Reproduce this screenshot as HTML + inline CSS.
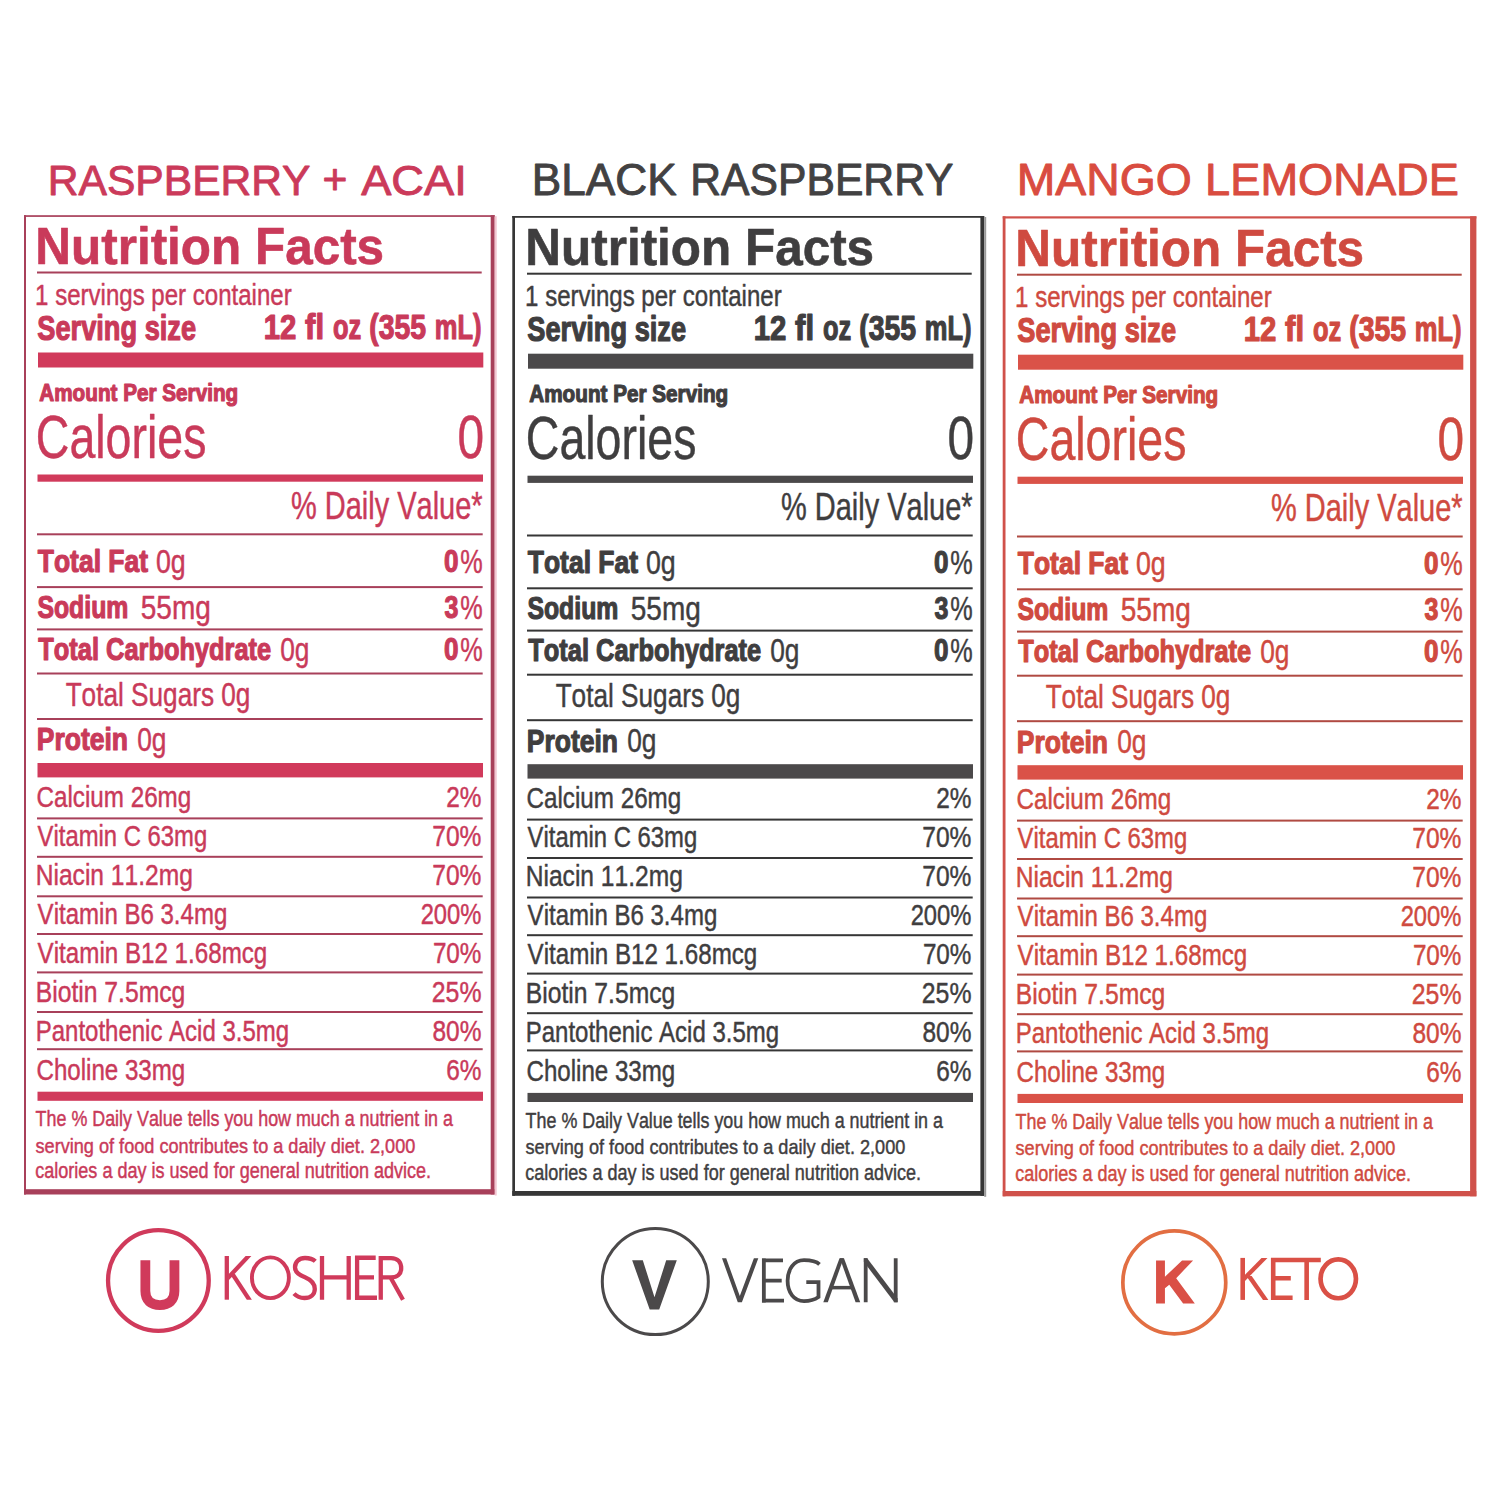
<!DOCTYPE html>
<html><head><meta charset="utf-8"><style>
html,body{margin:0;padding:0;background:#fff;width:1500px;height:1500px;overflow:hidden}
svg{display:block}
text{font-family:"Liberation Sans",sans-serif;font-kerning:none}
</style></head><body>
<svg width="1500" height="1500" viewBox="0 0 1500 1500">
<rect width="1500" height="1500" fill="#fff"/>
<text transform="matrix(0.9866 0 0 1 47.76 194.85)" font-size="43.17" font-weight="normal" fill="#CB3A5A" stroke="#CB3A5A" stroke-width="0.90" stroke-linejoin="round">RASPBERRY</text>
<text transform="matrix(0.9974 0 0 1 322.57 194.10)" font-size="42.72" font-weight="normal" fill="#CB3A5A" stroke="#CB3A5A" stroke-width="0.90" stroke-linejoin="round">+</text>
<text transform="matrix(1.0477 0 0 1 361.16 194.85)" font-size="43.17" font-weight="normal" fill="#CB3A5A" stroke="#CB3A5A" stroke-width="0.90" stroke-linejoin="round">ACAI</text>
<text transform="matrix(1.0101 0 0 1 531.82 194.85)" font-size="43.75" font-weight="normal" fill="#424142" stroke="#424142" stroke-width="0.90" stroke-linejoin="round">BLACK</text>
<text transform="matrix(0.9754 0 0 1 690.25 194.85)" font-size="43.75" font-weight="normal" fill="#424142" stroke="#424142" stroke-width="0.90" stroke-linejoin="round">RASPBERRY</text>
<text transform="matrix(1.0595 0 0 1 1016.65 194.85)" font-size="43.75" font-weight="normal" fill="#D94C40" stroke="#D94C40" stroke-width="0.90" stroke-linejoin="round">MANGO</text>
<text transform="matrix(1.0343 0 0 1 1205.04 194.85)" font-size="43.75" font-weight="normal" fill="#D94C40" stroke="#D94C40" stroke-width="0.90" stroke-linejoin="round">LEMONADE</text>
<rect x="24.00" y="215.20" width="470.70" height="1.70" fill="#A8405A"/>
<rect x="24.00" y="215.20" width="2.00" height="979.30" fill="#A8405A"/>
<rect x="490.70" y="215.20" width="4.00" height="979.30" fill="#A8405A"/>
<rect x="24.00" y="1189.20" width="470.70" height="5.30" fill="#A8405A"/>
<rect x="494.70" y="216.20" width="2.00" height="979.30" fill="#F2C5D0"/>
<text transform="matrix(0.9425 0 0 1 35.29 263.90)" font-size="52.47" font-weight="bold" fill="#C93A5A" stroke="#C93A5A" stroke-width="0.60" stroke-linejoin="round">Nutrition Facts</text>
<rect x="37.00" y="271.50" width="444.70" height="2.00" fill="#A8405A"/>
<text transform="matrix(0.8339 0 0 1 35.09 304.77)" font-size="28.85" font-weight="normal" fill="#C93A5A" stroke="#C93A5A" stroke-width="0.45" stroke-linejoin="round">1 servings per container</text>
<text transform="matrix(0.7867 0 0 1 37.32 339.70)" font-size="34.59" font-weight="bold" fill="#C93A5A" stroke="#C93A5A" stroke-width="1.20" stroke-linejoin="round">Serving size</text>
<text transform="matrix(0.8478 0 0 1 263.75 338.90)" font-size="34.59" font-weight="bold" fill="#C93A5A" stroke="#C93A5A" stroke-width="1.20" stroke-linejoin="round">12</text>
<text transform="matrix(0.9010 0 0 1 305.07 338.90)" font-size="34.59" font-weight="bold" fill="#C93A5A" stroke="#C93A5A" stroke-width="1.20" stroke-linejoin="round">fl</text>
<text transform="matrix(0.7341 0 0 1 332.91 338.90)" font-size="34.59" font-weight="bold" fill="#C93A5A" stroke="#C93A5A" stroke-width="1.20" stroke-linejoin="round">oz</text>
<text transform="matrix(0.8204 0 0 1 369.19 338.90)" font-size="34.59" font-weight="bold" fill="#C93A5A" stroke="#C93A5A" stroke-width="1.20" stroke-linejoin="round">(355</text>
<text transform="matrix(0.7373 0 0 1 434.72 338.90)" font-size="34.59" font-weight="bold" fill="#C93A5A" stroke="#C93A5A" stroke-width="1.20" stroke-linejoin="round">mL)</text>
<rect x="38.00" y="352.50" width="445.30" height="15.00" fill="#D13A5B"/>
<text transform="matrix(0.8478 0 0 1 39.28 400.70)" font-size="24.42" font-weight="bold" fill="#C93A5A" stroke="#C93A5A" stroke-width="1.20" stroke-linejoin="round">Amount Per Serving</text>
<text transform="matrix(0.7701 0 0 1 35.86 457.57)" font-size="60.39" font-weight="normal" fill="#C93A5A" stroke="#C93A5A" stroke-width="0.45" stroke-linejoin="round">Calories</text>
<text transform="matrix(0.7915 0 0 1 457.56 457.57)" font-size="60.39" font-weight="normal" fill="#C93A5A" stroke="#C93A5A" stroke-width="0.45" stroke-linejoin="round">0</text>
<rect x="37.50" y="474.50" width="445.50" height="7.20" fill="#D13A5B"/>
<text transform="matrix(0.7602 0 0 1 290.89 518.98)" font-size="38.15" font-weight="normal" fill="#C93A5A" stroke="#C93A5A" stroke-width="0.45" stroke-linejoin="round">% Daily Value*</text>
<rect x="37.00" y="533.30" width="445.70" height="2.00" fill="#A8405A"/>
<text transform="matrix(0.8198 0 0 1 37.80 572.20)" font-size="32.27" font-weight="bold" fill="#C93A5A" stroke="#C93A5A" stroke-width="1.20" stroke-linejoin="round">Total Fat</text>
<text transform="matrix(0.8038 0 0 1 155.88 572.57)" font-size="33.36" font-weight="normal" fill="#C93A5A" stroke="#C93A5A" stroke-width="0.45" stroke-linejoin="round">0g</text>
<text transform="matrix(0.8080 0 0 1 444.07 572.20)" font-size="32.27" font-weight="bold" fill="#C93A5A" stroke="#C93A5A" stroke-width="1.20" stroke-linejoin="round">0</text>
<text transform="matrix(0.7569 0 0 1 460.33 572.57)" font-size="33.36" font-weight="normal" fill="#C93A5A" stroke="#C93A5A" stroke-width="0.45" stroke-linejoin="round">%</text>
<rect x="37.00" y="586.10" width="445.70" height="2.00" fill="#A8405A"/>
<text transform="matrix(0.7696 0 0 1 37.38 618.20)" font-size="32.27" font-weight="bold" fill="#C93A5A" stroke="#C93A5A" stroke-width="1.20" stroke-linejoin="round">Sodium</text>
<text transform="matrix(0.8386 0 0 1 140.80 618.57)" font-size="33.36" font-weight="normal" fill="#C93A5A" stroke="#C93A5A" stroke-width="0.45" stroke-linejoin="round">55mg</text>
<text transform="matrix(0.7731 0 0 1 444.53 618.20)" font-size="32.27" font-weight="bold" fill="#C93A5A" stroke="#C93A5A" stroke-width="1.20" stroke-linejoin="round">3</text>
<text transform="matrix(0.7569 0 0 1 460.33 618.57)" font-size="33.36" font-weight="normal" fill="#C93A5A" stroke="#C93A5A" stroke-width="0.45" stroke-linejoin="round">%</text>
<rect x="37.00" y="628.40" width="445.70" height="2.00" fill="#A8405A"/>
<text transform="matrix(0.7875 0 0 1 38.31 660.20)" font-size="32.27" font-weight="bold" fill="#C93A5A" stroke="#C93A5A" stroke-width="1.20" stroke-linejoin="round">Total Carbohydrate</text>
<text transform="matrix(0.7890 0 0 1 280.20 660.57)" font-size="33.36" font-weight="normal" fill="#C93A5A" stroke="#C93A5A" stroke-width="0.45" stroke-linejoin="round">0g</text>
<text transform="matrix(0.8080 0 0 1 444.07 660.20)" font-size="32.27" font-weight="bold" fill="#C93A5A" stroke="#C93A5A" stroke-width="1.20" stroke-linejoin="round">0</text>
<text transform="matrix(0.7569 0 0 1 460.33 660.57)" font-size="33.36" font-weight="normal" fill="#C93A5A" stroke="#C93A5A" stroke-width="0.45" stroke-linejoin="round">%</text>
<rect x="37.00" y="672.50" width="445.70" height="2.00" fill="#A8405A"/>
<text transform="matrix(0.7848 0 0 1 65.64 706.27)" font-size="33.36" font-weight="normal" fill="#C93A5A" stroke="#C93A5A" stroke-width="0.45" stroke-linejoin="round">Total Sugars 0g</text>
<rect x="37.00" y="718.00" width="445.70" height="2.00" fill="#A8405A"/>
<text transform="matrix(0.8206 0 0 1 36.83 750.40)" font-size="32.27" font-weight="bold" fill="#C93A5A" stroke="#C93A5A" stroke-width="1.20" stroke-linejoin="round">Protein</text>
<text transform="matrix(0.7890 0 0 1 137.20 750.77)" font-size="33.36" font-weight="normal" fill="#C93A5A" stroke="#C93A5A" stroke-width="0.45" stroke-linejoin="round">0g</text>
<rect x="37.50" y="763.00" width="445.50" height="14.40" fill="#D13A5B"/>
<text transform="matrix(0.8397 0 0 1 36.49 806.77)" font-size="28.85" font-weight="normal" fill="#C93A5A" stroke="#C93A5A" stroke-width="0.45" stroke-linejoin="round">Calcium 26mg</text>
<text transform="matrix(0.8452 0 0 1 446.20 806.77)" font-size="28.85" font-weight="normal" fill="#C93A5A" stroke="#C93A5A" stroke-width="0.45" stroke-linejoin="round">2%</text>
<text transform="matrix(0.8268 0 0 1 37.62 845.77)" font-size="28.85" font-weight="normal" fill="#C93A5A" stroke="#C93A5A" stroke-width="0.45" stroke-linejoin="round">Vitamin C 63mg</text>
<text transform="matrix(0.8518 0 0 1 432.27 845.77)" font-size="28.85" font-weight="normal" fill="#C93A5A" stroke="#C93A5A" stroke-width="0.45" stroke-linejoin="round">70%</text>
<text transform="matrix(0.8527 0 0 1 35.71 885.17)" font-size="28.85" font-weight="normal" fill="#C93A5A" stroke="#C93A5A" stroke-width="0.45" stroke-linejoin="round">Niacin 11.2mg</text>
<text transform="matrix(0.8518 0 0 1 432.27 885.17)" font-size="28.85" font-weight="normal" fill="#C93A5A" stroke="#C93A5A" stroke-width="0.45" stroke-linejoin="round">70%</text>
<text transform="matrix(0.8331 0 0 1 37.62 923.57)" font-size="28.85" font-weight="normal" fill="#C93A5A" stroke="#C93A5A" stroke-width="0.45" stroke-linejoin="round">Vitamin B6 3.4mg</text>
<text transform="matrix(0.8238 0 0 1 420.63 923.57)" font-size="28.85" font-weight="normal" fill="#C93A5A" stroke="#C93A5A" stroke-width="0.45" stroke-linejoin="round">200%</text>
<text transform="matrix(0.8376 0 0 1 37.62 962.77)" font-size="28.85" font-weight="normal" fill="#C93A5A" stroke="#C93A5A" stroke-width="0.45" stroke-linejoin="round">Vitamin B12 1.68mcg</text>
<text transform="matrix(0.8409 0 0 1 432.88 962.77)" font-size="28.85" font-weight="normal" fill="#C93A5A" stroke="#C93A5A" stroke-width="0.45" stroke-linejoin="round">70%</text>
<text transform="matrix(0.8562 0 0 1 35.70 1001.77)" font-size="28.85" font-weight="normal" fill="#C93A5A" stroke="#C93A5A" stroke-width="0.45" stroke-linejoin="round">Biotin 7.5mcg</text>
<text transform="matrix(0.8604 0 0 1 431.78 1001.77)" font-size="28.85" font-weight="normal" fill="#C93A5A" stroke="#C93A5A" stroke-width="0.45" stroke-linejoin="round">25%</text>
<text transform="matrix(0.8321 0 0 1 35.76 1040.78)" font-size="28.85" font-weight="normal" fill="#C93A5A" stroke="#C93A5A" stroke-width="0.45" stroke-linejoin="round">Pantothenic Acid 3.5mg</text>
<text transform="matrix(0.8483 0 0 1 432.46 1040.78)" font-size="28.85" font-weight="normal" fill="#C93A5A" stroke="#C93A5A" stroke-width="0.45" stroke-linejoin="round">80%</text>
<text transform="matrix(0.8360 0 0 1 36.50 1079.78)" font-size="28.85" font-weight="normal" fill="#C93A5A" stroke="#C93A5A" stroke-width="0.45" stroke-linejoin="round">Choline 33mg</text>
<text transform="matrix(0.8455 0 0 1 446.19 1079.78)" font-size="28.85" font-weight="normal" fill="#C93A5A" stroke="#C93A5A" stroke-width="0.45" stroke-linejoin="round">6%</text>
<rect x="37.00" y="817.40" width="445.70" height="2.00" fill="#A8405A"/>
<rect x="37.00" y="855.80" width="445.70" height="2.00" fill="#A8405A"/>
<rect x="37.00" y="895.30" width="445.70" height="2.00" fill="#A8405A"/>
<rect x="37.00" y="933.00" width="445.70" height="2.00" fill="#A8405A"/>
<rect x="37.00" y="971.40" width="445.70" height="2.00" fill="#A8405A"/>
<rect x="37.00" y="1011.00" width="445.70" height="2.00" fill="#A8405A"/>
<rect x="37.00" y="1048.20" width="445.70" height="2.00" fill="#A8405A"/>
<rect x="37.50" y="1091.70" width="445.50" height="9.10" fill="#D13A5B"/>
<text transform="matrix(0.8455 0 0 1 35.62 1126.48)" font-size="21.15" font-weight="normal" fill="#C93A5A" stroke="#C93A5A" stroke-width="0.45" stroke-linejoin="round">The % Daily Value tells you how much a nutrient in a</text>
<text transform="matrix(0.8573 0 0 1 35.52 1152.58)" font-size="21.15" font-weight="normal" fill="#C93A5A" stroke="#C93A5A" stroke-width="0.45" stroke-linejoin="round">serving of food contributes to a daily diet. 2,000</text>
<text transform="matrix(0.8532 0 0 1 35.26 1178.48)" font-size="21.15" font-weight="normal" fill="#C93A5A" stroke="#C93A5A" stroke-width="0.45" stroke-linejoin="round">calories a day is used for general nutrition advice.</text>
<rect x="512.30" y="216.00" width="471.90" height="1.80" fill="#363636"/>
<rect x="512.30" y="216.00" width="2.70" height="979.80" fill="#363636"/>
<rect x="980.40" y="216.00" width="3.80" height="979.80" fill="#363636"/>
<rect x="512.30" y="1191.00" width="471.90" height="4.80" fill="#363636"/>
<rect x="984.20" y="217.00" width="2.00" height="979.80" fill="#9A9A9A"/>
<text transform="matrix(0.9425 0 0 1 525.29 265.10)" font-size="52.47" font-weight="bold" fill="#3F3E3F" stroke="#3F3E3F" stroke-width="0.60" stroke-linejoin="round">Nutrition Facts</text>
<rect x="527.00" y="272.70" width="444.70" height="2.00" fill="#363636"/>
<text transform="matrix(0.8339 0 0 1 525.09 305.97)" font-size="28.85" font-weight="normal" fill="#3F3E3F" stroke="#3F3E3F" stroke-width="0.45" stroke-linejoin="round">1 servings per container</text>
<text transform="matrix(0.7867 0 0 1 527.32 340.90)" font-size="34.59" font-weight="bold" fill="#3F3E3F" stroke="#3F3E3F" stroke-width="1.20" stroke-linejoin="round">Serving size</text>
<text transform="matrix(0.8478 0 0 1 753.75 340.10)" font-size="34.59" font-weight="bold" fill="#3F3E3F" stroke="#3F3E3F" stroke-width="1.20" stroke-linejoin="round">12</text>
<text transform="matrix(0.9010 0 0 1 795.07 340.10)" font-size="34.59" font-weight="bold" fill="#3F3E3F" stroke="#3F3E3F" stroke-width="1.20" stroke-linejoin="round">fl</text>
<text transform="matrix(0.7341 0 0 1 822.91 340.10)" font-size="34.59" font-weight="bold" fill="#3F3E3F" stroke="#3F3E3F" stroke-width="1.20" stroke-linejoin="round">oz</text>
<text transform="matrix(0.8204 0 0 1 859.19 340.10)" font-size="34.59" font-weight="bold" fill="#3F3E3F" stroke="#3F3E3F" stroke-width="1.20" stroke-linejoin="round">(355</text>
<text transform="matrix(0.7373 0 0 1 924.72 340.10)" font-size="34.59" font-weight="bold" fill="#3F3E3F" stroke="#3F3E3F" stroke-width="1.20" stroke-linejoin="round">mL)</text>
<rect x="528.00" y="353.70" width="445.30" height="15.00" fill="#4B494A"/>
<text transform="matrix(0.8478 0 0 1 529.28 401.90)" font-size="24.42" font-weight="bold" fill="#3F3E3F" stroke="#3F3E3F" stroke-width="1.20" stroke-linejoin="round">Amount Per Serving</text>
<text transform="matrix(0.7701 0 0 1 525.86 458.77)" font-size="60.39" font-weight="normal" fill="#3F3E3F" stroke="#3F3E3F" stroke-width="0.45" stroke-linejoin="round">Calories</text>
<text transform="matrix(0.7915 0 0 1 947.56 458.77)" font-size="60.39" font-weight="normal" fill="#3F3E3F" stroke="#3F3E3F" stroke-width="0.45" stroke-linejoin="round">0</text>
<rect x="527.50" y="475.70" width="445.50" height="7.20" fill="#4B494A"/>
<text transform="matrix(0.7602 0 0 1 780.89 520.18)" font-size="38.15" font-weight="normal" fill="#3F3E3F" stroke="#3F3E3F" stroke-width="0.45" stroke-linejoin="round">% Daily Value*</text>
<rect x="527.00" y="534.50" width="445.70" height="2.00" fill="#363636"/>
<text transform="matrix(0.8198 0 0 1 527.80 573.40)" font-size="32.27" font-weight="bold" fill="#3F3E3F" stroke="#3F3E3F" stroke-width="1.20" stroke-linejoin="round">Total Fat</text>
<text transform="matrix(0.8038 0 0 1 645.88 573.77)" font-size="33.36" font-weight="normal" fill="#3F3E3F" stroke="#3F3E3F" stroke-width="0.45" stroke-linejoin="round">0g</text>
<text transform="matrix(0.8080 0 0 1 934.07 573.40)" font-size="32.27" font-weight="bold" fill="#3F3E3F" stroke="#3F3E3F" stroke-width="1.20" stroke-linejoin="round">0</text>
<text transform="matrix(0.7569 0 0 1 950.33 573.77)" font-size="33.36" font-weight="normal" fill="#3F3E3F" stroke="#3F3E3F" stroke-width="0.45" stroke-linejoin="round">%</text>
<rect x="527.00" y="587.30" width="445.70" height="2.00" fill="#363636"/>
<text transform="matrix(0.7696 0 0 1 527.38 619.40)" font-size="32.27" font-weight="bold" fill="#3F3E3F" stroke="#3F3E3F" stroke-width="1.20" stroke-linejoin="round">Sodium</text>
<text transform="matrix(0.8386 0 0 1 630.80 619.77)" font-size="33.36" font-weight="normal" fill="#3F3E3F" stroke="#3F3E3F" stroke-width="0.45" stroke-linejoin="round">55mg</text>
<text transform="matrix(0.7731 0 0 1 934.53 619.40)" font-size="32.27" font-weight="bold" fill="#3F3E3F" stroke="#3F3E3F" stroke-width="1.20" stroke-linejoin="round">3</text>
<text transform="matrix(0.7569 0 0 1 950.33 619.77)" font-size="33.36" font-weight="normal" fill="#3F3E3F" stroke="#3F3E3F" stroke-width="0.45" stroke-linejoin="round">%</text>
<rect x="527.00" y="629.60" width="445.70" height="2.00" fill="#363636"/>
<text transform="matrix(0.7875 0 0 1 528.31 661.40)" font-size="32.27" font-weight="bold" fill="#3F3E3F" stroke="#3F3E3F" stroke-width="1.20" stroke-linejoin="round">Total Carbohydrate</text>
<text transform="matrix(0.7890 0 0 1 770.20 661.77)" font-size="33.36" font-weight="normal" fill="#3F3E3F" stroke="#3F3E3F" stroke-width="0.45" stroke-linejoin="round">0g</text>
<text transform="matrix(0.8080 0 0 1 934.07 661.40)" font-size="32.27" font-weight="bold" fill="#3F3E3F" stroke="#3F3E3F" stroke-width="1.20" stroke-linejoin="round">0</text>
<text transform="matrix(0.7569 0 0 1 950.33 661.77)" font-size="33.36" font-weight="normal" fill="#3F3E3F" stroke="#3F3E3F" stroke-width="0.45" stroke-linejoin="round">%</text>
<rect x="527.00" y="673.70" width="445.70" height="2.00" fill="#363636"/>
<text transform="matrix(0.7848 0 0 1 555.64 707.48)" font-size="33.36" font-weight="normal" fill="#3F3E3F" stroke="#3F3E3F" stroke-width="0.45" stroke-linejoin="round">Total Sugars 0g</text>
<rect x="527.00" y="719.20" width="445.70" height="2.00" fill="#363636"/>
<text transform="matrix(0.8206 0 0 1 526.83 751.60)" font-size="32.27" font-weight="bold" fill="#3F3E3F" stroke="#3F3E3F" stroke-width="1.20" stroke-linejoin="round">Protein</text>
<text transform="matrix(0.7890 0 0 1 627.20 751.98)" font-size="33.36" font-weight="normal" fill="#3F3E3F" stroke="#3F3E3F" stroke-width="0.45" stroke-linejoin="round">0g</text>
<rect x="527.50" y="764.20" width="445.50" height="14.40" fill="#4B494A"/>
<text transform="matrix(0.8397 0 0 1 526.49 807.98)" font-size="28.85" font-weight="normal" fill="#3F3E3F" stroke="#3F3E3F" stroke-width="0.45" stroke-linejoin="round">Calcium 26mg</text>
<text transform="matrix(0.8452 0 0 1 936.20 807.98)" font-size="28.85" font-weight="normal" fill="#3F3E3F" stroke="#3F3E3F" stroke-width="0.45" stroke-linejoin="round">2%</text>
<text transform="matrix(0.8268 0 0 1 527.62 846.98)" font-size="28.85" font-weight="normal" fill="#3F3E3F" stroke="#3F3E3F" stroke-width="0.45" stroke-linejoin="round">Vitamin C 63mg</text>
<text transform="matrix(0.8518 0 0 1 922.27 846.98)" font-size="28.85" font-weight="normal" fill="#3F3E3F" stroke="#3F3E3F" stroke-width="0.45" stroke-linejoin="round">70%</text>
<text transform="matrix(0.8527 0 0 1 525.71 886.38)" font-size="28.85" font-weight="normal" fill="#3F3E3F" stroke="#3F3E3F" stroke-width="0.45" stroke-linejoin="round">Niacin 11.2mg</text>
<text transform="matrix(0.8518 0 0 1 922.27 886.38)" font-size="28.85" font-weight="normal" fill="#3F3E3F" stroke="#3F3E3F" stroke-width="0.45" stroke-linejoin="round">70%</text>
<text transform="matrix(0.8331 0 0 1 527.62 924.77)" font-size="28.85" font-weight="normal" fill="#3F3E3F" stroke="#3F3E3F" stroke-width="0.45" stroke-linejoin="round">Vitamin B6 3.4mg</text>
<text transform="matrix(0.8238 0 0 1 910.63 924.77)" font-size="28.85" font-weight="normal" fill="#3F3E3F" stroke="#3F3E3F" stroke-width="0.45" stroke-linejoin="round">200%</text>
<text transform="matrix(0.8376 0 0 1 527.62 963.98)" font-size="28.85" font-weight="normal" fill="#3F3E3F" stroke="#3F3E3F" stroke-width="0.45" stroke-linejoin="round">Vitamin B12 1.68mcg</text>
<text transform="matrix(0.8409 0 0 1 922.88 963.98)" font-size="28.85" font-weight="normal" fill="#3F3E3F" stroke="#3F3E3F" stroke-width="0.45" stroke-linejoin="round">70%</text>
<text transform="matrix(0.8562 0 0 1 525.70 1002.98)" font-size="28.85" font-weight="normal" fill="#3F3E3F" stroke="#3F3E3F" stroke-width="0.45" stroke-linejoin="round">Biotin 7.5mcg</text>
<text transform="matrix(0.8604 0 0 1 921.78 1002.98)" font-size="28.85" font-weight="normal" fill="#3F3E3F" stroke="#3F3E3F" stroke-width="0.45" stroke-linejoin="round">25%</text>
<text transform="matrix(0.8321 0 0 1 525.76 1041.98)" font-size="28.85" font-weight="normal" fill="#3F3E3F" stroke="#3F3E3F" stroke-width="0.45" stroke-linejoin="round">Pantothenic Acid 3.5mg</text>
<text transform="matrix(0.8483 0 0 1 922.46 1041.98)" font-size="28.85" font-weight="normal" fill="#3F3E3F" stroke="#3F3E3F" stroke-width="0.45" stroke-linejoin="round">80%</text>
<text transform="matrix(0.8360 0 0 1 526.50 1080.98)" font-size="28.85" font-weight="normal" fill="#3F3E3F" stroke="#3F3E3F" stroke-width="0.45" stroke-linejoin="round">Choline 33mg</text>
<text transform="matrix(0.8455 0 0 1 936.19 1080.98)" font-size="28.85" font-weight="normal" fill="#3F3E3F" stroke="#3F3E3F" stroke-width="0.45" stroke-linejoin="round">6%</text>
<rect x="527.00" y="818.60" width="445.70" height="2.00" fill="#363636"/>
<rect x="527.00" y="857.00" width="445.70" height="2.00" fill="#363636"/>
<rect x="527.00" y="896.50" width="445.70" height="2.00" fill="#363636"/>
<rect x="527.00" y="934.20" width="445.70" height="2.00" fill="#363636"/>
<rect x="527.00" y="972.60" width="445.70" height="2.00" fill="#363636"/>
<rect x="527.00" y="1012.20" width="445.70" height="2.00" fill="#363636"/>
<rect x="527.00" y="1049.40" width="445.70" height="2.00" fill="#363636"/>
<rect x="527.50" y="1092.90" width="445.50" height="9.10" fill="#4B494A"/>
<text transform="matrix(0.8455 0 0 1 525.62 1127.68)" font-size="21.15" font-weight="normal" fill="#3F3E3F" stroke="#3F3E3F" stroke-width="0.45" stroke-linejoin="round">The % Daily Value tells you how much a nutrient in a</text>
<text transform="matrix(0.8573 0 0 1 525.52 1153.78)" font-size="21.15" font-weight="normal" fill="#3F3E3F" stroke="#3F3E3F" stroke-width="0.45" stroke-linejoin="round">serving of food contributes to a daily diet. 2,000</text>
<text transform="matrix(0.8532 0 0 1 525.26 1179.68)" font-size="21.15" font-weight="normal" fill="#3F3E3F" stroke="#3F3E3F" stroke-width="0.45" stroke-linejoin="round">calories a day is used for general nutrition advice.</text>
<rect x="1002.70" y="216.30" width="473.70" height="2.20" fill="#D0514A"/>
<rect x="1002.70" y="216.30" width="2.80" height="980.00" fill="#D0514A"/>
<rect x="1470.10" y="216.30" width="6.30" height="980.00" fill="#D0514A"/>
<rect x="1002.70" y="1191.00" width="473.70" height="5.30" fill="#D0514A"/>
<text transform="matrix(0.9425 0 0 1 1015.29 266.10)" font-size="52.47" font-weight="bold" fill="#CF4A40" stroke="#CF4A40" stroke-width="0.60" stroke-linejoin="round">Nutrition Facts</text>
<rect x="1017.00" y="273.70" width="444.70" height="2.00" fill="#B04A42"/>
<text transform="matrix(0.8339 0 0 1 1015.09 306.97)" font-size="28.85" font-weight="normal" fill="#CF4A40" stroke="#CF4A40" stroke-width="0.45" stroke-linejoin="round">1 servings per container</text>
<text transform="matrix(0.7867 0 0 1 1017.32 341.90)" font-size="34.59" font-weight="bold" fill="#CF4A40" stroke="#CF4A40" stroke-width="1.20" stroke-linejoin="round">Serving size</text>
<text transform="matrix(0.8478 0 0 1 1243.75 341.10)" font-size="34.59" font-weight="bold" fill="#CF4A40" stroke="#CF4A40" stroke-width="1.20" stroke-linejoin="round">12</text>
<text transform="matrix(0.9010 0 0 1 1285.07 341.10)" font-size="34.59" font-weight="bold" fill="#CF4A40" stroke="#CF4A40" stroke-width="1.20" stroke-linejoin="round">fl</text>
<text transform="matrix(0.7341 0 0 1 1312.91 341.10)" font-size="34.59" font-weight="bold" fill="#CF4A40" stroke="#CF4A40" stroke-width="1.20" stroke-linejoin="round">oz</text>
<text transform="matrix(0.8204 0 0 1 1349.19 341.10)" font-size="34.59" font-weight="bold" fill="#CF4A40" stroke="#CF4A40" stroke-width="1.20" stroke-linejoin="round">(355</text>
<text transform="matrix(0.7373 0 0 1 1414.72 341.10)" font-size="34.59" font-weight="bold" fill="#CF4A40" stroke="#CF4A40" stroke-width="1.20" stroke-linejoin="round">mL)</text>
<rect x="1018.00" y="354.70" width="445.30" height="15.00" fill="#DA5248"/>
<text transform="matrix(0.8478 0 0 1 1019.28 402.90)" font-size="24.42" font-weight="bold" fill="#CF4A40" stroke="#CF4A40" stroke-width="1.20" stroke-linejoin="round">Amount Per Serving</text>
<text transform="matrix(0.7701 0 0 1 1015.86 459.77)" font-size="60.39" font-weight="normal" fill="#CF4A40" stroke="#CF4A40" stroke-width="0.45" stroke-linejoin="round">Calories</text>
<text transform="matrix(0.7915 0 0 1 1437.56 459.77)" font-size="60.39" font-weight="normal" fill="#CF4A40" stroke="#CF4A40" stroke-width="0.45" stroke-linejoin="round">0</text>
<rect x="1017.50" y="476.70" width="445.50" height="7.20" fill="#DA5248"/>
<text transform="matrix(0.7602 0 0 1 1270.89 521.18)" font-size="38.15" font-weight="normal" fill="#CF4A40" stroke="#CF4A40" stroke-width="0.45" stroke-linejoin="round">% Daily Value*</text>
<rect x="1017.00" y="535.50" width="445.70" height="2.00" fill="#B04A42"/>
<text transform="matrix(0.8198 0 0 1 1017.80 574.40)" font-size="32.27" font-weight="bold" fill="#CF4A40" stroke="#CF4A40" stroke-width="1.20" stroke-linejoin="round">Total Fat</text>
<text transform="matrix(0.8038 0 0 1 1135.88 574.77)" font-size="33.36" font-weight="normal" fill="#CF4A40" stroke="#CF4A40" stroke-width="0.45" stroke-linejoin="round">0g</text>
<text transform="matrix(0.8080 0 0 1 1424.07 574.40)" font-size="32.27" font-weight="bold" fill="#CF4A40" stroke="#CF4A40" stroke-width="1.20" stroke-linejoin="round">0</text>
<text transform="matrix(0.7569 0 0 1 1440.33 574.77)" font-size="33.36" font-weight="normal" fill="#CF4A40" stroke="#CF4A40" stroke-width="0.45" stroke-linejoin="round">%</text>
<rect x="1017.00" y="588.30" width="445.70" height="2.00" fill="#B04A42"/>
<text transform="matrix(0.7696 0 0 1 1017.38 620.40)" font-size="32.27" font-weight="bold" fill="#CF4A40" stroke="#CF4A40" stroke-width="1.20" stroke-linejoin="round">Sodium</text>
<text transform="matrix(0.8386 0 0 1 1120.80 620.77)" font-size="33.36" font-weight="normal" fill="#CF4A40" stroke="#CF4A40" stroke-width="0.45" stroke-linejoin="round">55mg</text>
<text transform="matrix(0.7731 0 0 1 1424.53 620.40)" font-size="32.27" font-weight="bold" fill="#CF4A40" stroke="#CF4A40" stroke-width="1.20" stroke-linejoin="round">3</text>
<text transform="matrix(0.7569 0 0 1 1440.33 620.77)" font-size="33.36" font-weight="normal" fill="#CF4A40" stroke="#CF4A40" stroke-width="0.45" stroke-linejoin="round">%</text>
<rect x="1017.00" y="630.60" width="445.70" height="2.00" fill="#B04A42"/>
<text transform="matrix(0.7875 0 0 1 1018.31 662.40)" font-size="32.27" font-weight="bold" fill="#CF4A40" stroke="#CF4A40" stroke-width="1.20" stroke-linejoin="round">Total Carbohydrate</text>
<text transform="matrix(0.7890 0 0 1 1260.20 662.77)" font-size="33.36" font-weight="normal" fill="#CF4A40" stroke="#CF4A40" stroke-width="0.45" stroke-linejoin="round">0g</text>
<text transform="matrix(0.8080 0 0 1 1424.07 662.40)" font-size="32.27" font-weight="bold" fill="#CF4A40" stroke="#CF4A40" stroke-width="1.20" stroke-linejoin="round">0</text>
<text transform="matrix(0.7569 0 0 1 1440.33 662.77)" font-size="33.36" font-weight="normal" fill="#CF4A40" stroke="#CF4A40" stroke-width="0.45" stroke-linejoin="round">%</text>
<rect x="1017.00" y="674.70" width="445.70" height="2.00" fill="#B04A42"/>
<text transform="matrix(0.7848 0 0 1 1045.64 708.48)" font-size="33.36" font-weight="normal" fill="#CF4A40" stroke="#CF4A40" stroke-width="0.45" stroke-linejoin="round">Total Sugars 0g</text>
<rect x="1017.00" y="720.20" width="445.70" height="2.00" fill="#B04A42"/>
<text transform="matrix(0.8206 0 0 1 1016.83 752.60)" font-size="32.27" font-weight="bold" fill="#CF4A40" stroke="#CF4A40" stroke-width="1.20" stroke-linejoin="round">Protein</text>
<text transform="matrix(0.7890 0 0 1 1117.20 752.98)" font-size="33.36" font-weight="normal" fill="#CF4A40" stroke="#CF4A40" stroke-width="0.45" stroke-linejoin="round">0g</text>
<rect x="1017.50" y="765.20" width="445.50" height="14.40" fill="#DA5248"/>
<text transform="matrix(0.8397 0 0 1 1016.49 808.98)" font-size="28.85" font-weight="normal" fill="#CF4A40" stroke="#CF4A40" stroke-width="0.45" stroke-linejoin="round">Calcium 26mg</text>
<text transform="matrix(0.8452 0 0 1 1426.20 808.98)" font-size="28.85" font-weight="normal" fill="#CF4A40" stroke="#CF4A40" stroke-width="0.45" stroke-linejoin="round">2%</text>
<text transform="matrix(0.8268 0 0 1 1017.62 847.98)" font-size="28.85" font-weight="normal" fill="#CF4A40" stroke="#CF4A40" stroke-width="0.45" stroke-linejoin="round">Vitamin C 63mg</text>
<text transform="matrix(0.8518 0 0 1 1412.27 847.98)" font-size="28.85" font-weight="normal" fill="#CF4A40" stroke="#CF4A40" stroke-width="0.45" stroke-linejoin="round">70%</text>
<text transform="matrix(0.8527 0 0 1 1015.71 887.38)" font-size="28.85" font-weight="normal" fill="#CF4A40" stroke="#CF4A40" stroke-width="0.45" stroke-linejoin="round">Niacin 11.2mg</text>
<text transform="matrix(0.8518 0 0 1 1412.27 887.38)" font-size="28.85" font-weight="normal" fill="#CF4A40" stroke="#CF4A40" stroke-width="0.45" stroke-linejoin="round">70%</text>
<text transform="matrix(0.8331 0 0 1 1017.62 925.77)" font-size="28.85" font-weight="normal" fill="#CF4A40" stroke="#CF4A40" stroke-width="0.45" stroke-linejoin="round">Vitamin B6 3.4mg</text>
<text transform="matrix(0.8238 0 0 1 1400.63 925.77)" font-size="28.85" font-weight="normal" fill="#CF4A40" stroke="#CF4A40" stroke-width="0.45" stroke-linejoin="round">200%</text>
<text transform="matrix(0.8376 0 0 1 1017.62 964.98)" font-size="28.85" font-weight="normal" fill="#CF4A40" stroke="#CF4A40" stroke-width="0.45" stroke-linejoin="round">Vitamin B12 1.68mcg</text>
<text transform="matrix(0.8409 0 0 1 1412.88 964.98)" font-size="28.85" font-weight="normal" fill="#CF4A40" stroke="#CF4A40" stroke-width="0.45" stroke-linejoin="round">70%</text>
<text transform="matrix(0.8562 0 0 1 1015.70 1003.98)" font-size="28.85" font-weight="normal" fill="#CF4A40" stroke="#CF4A40" stroke-width="0.45" stroke-linejoin="round">Biotin 7.5mcg</text>
<text transform="matrix(0.8604 0 0 1 1411.78 1003.98)" font-size="28.85" font-weight="normal" fill="#CF4A40" stroke="#CF4A40" stroke-width="0.45" stroke-linejoin="round">25%</text>
<text transform="matrix(0.8321 0 0 1 1015.76 1042.98)" font-size="28.85" font-weight="normal" fill="#CF4A40" stroke="#CF4A40" stroke-width="0.45" stroke-linejoin="round">Pantothenic Acid 3.5mg</text>
<text transform="matrix(0.8483 0 0 1 1412.46 1042.98)" font-size="28.85" font-weight="normal" fill="#CF4A40" stroke="#CF4A40" stroke-width="0.45" stroke-linejoin="round">80%</text>
<text transform="matrix(0.8360 0 0 1 1016.50 1081.98)" font-size="28.85" font-weight="normal" fill="#CF4A40" stroke="#CF4A40" stroke-width="0.45" stroke-linejoin="round">Choline 33mg</text>
<text transform="matrix(0.8455 0 0 1 1426.19 1081.98)" font-size="28.85" font-weight="normal" fill="#CF4A40" stroke="#CF4A40" stroke-width="0.45" stroke-linejoin="round">6%</text>
<rect x="1017.00" y="819.60" width="445.70" height="2.00" fill="#B04A42"/>
<rect x="1017.00" y="858.00" width="445.70" height="2.00" fill="#B04A42"/>
<rect x="1017.00" y="897.50" width="445.70" height="2.00" fill="#B04A42"/>
<rect x="1017.00" y="935.20" width="445.70" height="2.00" fill="#B04A42"/>
<rect x="1017.00" y="973.60" width="445.70" height="2.00" fill="#B04A42"/>
<rect x="1017.00" y="1013.20" width="445.70" height="2.00" fill="#B04A42"/>
<rect x="1017.00" y="1050.40" width="445.70" height="2.00" fill="#B04A42"/>
<rect x="1017.50" y="1093.90" width="445.50" height="9.10" fill="#DA5248"/>
<text transform="matrix(0.8455 0 0 1 1015.62 1128.68)" font-size="21.15" font-weight="normal" fill="#CF4A40" stroke="#CF4A40" stroke-width="0.45" stroke-linejoin="round">The % Daily Value tells you how much a nutrient in a</text>
<text transform="matrix(0.8573 0 0 1 1015.52 1154.78)" font-size="21.15" font-weight="normal" fill="#CF4A40" stroke="#CF4A40" stroke-width="0.45" stroke-linejoin="round">serving of food contributes to a daily diet. 2,000</text>
<text transform="matrix(0.8532 0 0 1 1015.26 1180.68)" font-size="21.15" font-weight="normal" fill="#CF4A40" stroke="#CF4A40" stroke-width="0.45" stroke-linejoin="round">calories a day is used for general nutrition advice.</text>
<circle cx="158.40" cy="1280.50" r="50.35" fill="none" stroke="#D03A5B" stroke-width="4.30"/>
<path d="M145.35,1260.2 V1291 C145.35,1300.5 151,1305.1 159.9,1305.1 C168.8,1305.1 174.45,1300.5 174.45,1291 V1260.2" fill="none" stroke="#D03A5B" stroke-width="9.80"/>
<path d="M226.8,1256 V1299.7" fill="none" stroke="#D03A5B" stroke-width="4.30"/>
<polygon points="245.60,1256.00 251.40,1256.00 228.50,1280.50 228.50,1274.30" fill="#D03A5B"/>
<polygon points="229.90,1274.00 235.00,1274.00 251.90,1299.70 246.80,1299.70" fill="#D03A5B"/>
<ellipse cx="270.4" cy="1277.75" rx="18.5" ry="20.4" fill="none" stroke="#D03A5B" stroke-width="3.9"/>
<path d="M315.3,1261.3 C312.5,1258.6 309,1258 305,1258 C299,1258 295,1262 295,1267.2 C295,1273 300,1275.3 305,1277.3 C310.5,1279.6 314.8,1282.8 314.8,1289 C314.8,1294.6 310.5,1298 304.5,1298 C300,1298 296.5,1296.3 294,1293.6" fill="none" stroke="#D03A5B" stroke-width="4.30"/>
<path d="M322,1256 V1299.7 M348.7,1256 V1299.7 M322,1277.4 H348.7" fill="none" stroke="#D03A5B" stroke-width="4.30"/>
<path d="M357.1,1256 V1299.7 M355,1257.75 H375.7 M357.1,1277.45 H374 M355,1297.75 H377" fill="none" stroke="#D03A5B" stroke-width="4.30"/>
<path d="M380.75,1256 V1299.7 M378.6,1258.1 H391 C398,1258.1 401.2,1262.6 401.2,1268.3 C401.2,1274 397.5,1277.4 391,1277.4 H380.75 M390.8,1278 L403,1299.7" fill="none" stroke="#D03A5B" stroke-width="4.30"/>
<circle cx="655.30" cy="1281.60" r="53.00" fill="none" stroke="#4B494A" stroke-width="3.00"/>
<polygon points="632.15,1260.20 642.80,1260.20 654.50,1297.20 666.20,1260.20 676.80,1260.20 659.20,1309.60 649.70,1309.60" fill="#4B494A"/>
<polygon points="722.00,1258.30 726.20,1258.30 739.80,1296.00 753.90,1258.30 758.30,1258.30 741.90,1302.30 737.80,1302.30" fill="#4B494A"/>
<path d="M763.85,1258.3 V1302.7 M761.95,1260.3 H783 M763.85,1280.7 H781.7 M761.95,1300.7 H784" fill="none" stroke="#4B494A" stroke-width="3.80"/>
<path d="M819.5,1264.3 C816,1261 811,1260.2 804,1260.2 C793.5,1260.2 787.6,1270 787.6,1280.8 C787.6,1292.5 794,1301.1 804,1301.1 C810,1301.1 815,1299.5 818.5,1297 V1282.2 H806.3" fill="none" stroke="#4B494A" stroke-width="3.80"/>
<polygon points="839.50,1258.30 843.60,1258.30 827.80,1302.30 823.30,1302.30" fill="#4B494A"/>
<polygon points="839.90,1258.30 844.00,1258.30 860.20,1302.30 855.60,1302.30" fill="#4B494A"/>
<rect x="831" y="1285.9" width="21.5" height="3.5" fill="#4B494A"/>
<path d="M865.7,1302.3 V1258.3 M895.7,1258.3 V1302.3" fill="none" stroke="#4B494A" stroke-width="3.80"/>
<polygon points="863.80,1258.30 867.20,1258.30 897.60,1298.50 897.60,1302.30 894.40,1302.30 863.80,1261.80" fill="#4B494A"/>
<circle cx="1174.30" cy="1282.40" r="51.45" fill="none" stroke="#E26E42" stroke-width="3.70"/>
<polygon points="1156.05,1260.40 1164.93,1260.40 1164.93,1276.86 1182.04,1260.40 1193.09,1260.40 1176.20,1278.16 1194.83,1303.51 1183.13,1303.51 1169.26,1284.66 1164.93,1288.13 1164.93,1303.51 1156.05,1303.51" fill="#DA5046"/>
<path d="M1242.7,1257.9 V1299.9" fill="none" stroke="#DA5046" stroke-width="4.60"/>
<polygon points="1261.50,1257.90 1267.50,1257.90 1244.50,1281.50 1244.50,1275.30" fill="#DA5046"/>
<polygon points="1246.30,1276.00 1251.70,1276.00 1268.40,1299.90 1263.00,1299.90" fill="#DA5046"/>
<path d="M1273.2,1257.9 V1299.9 M1270.9,1260 H1320.8 M1273.2,1278.2 H1290.8 M1270.9,1297.8 H1292.6 M1306.65,1260 V1299.9" fill="none" stroke="#DA5046" stroke-width="4.60"/>
<ellipse cx="1338.25" cy="1278.8" rx="17.7" ry="19.45" fill="none" stroke="#DA5046" stroke-width="4.7"/>
</svg>
</body></html>
